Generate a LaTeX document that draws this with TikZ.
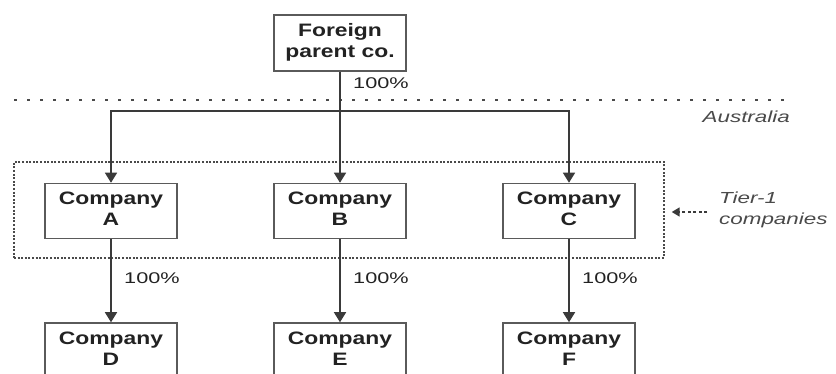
\documentclass[tikz,border=0pt]{standalone}
\usepackage{fontspec}
\usepackage{graphicx}
\setmainfont{Liberation Sans}
\usetikzlibrary{arrows.meta}

\definecolor{inkline}{HTML}{3A3A3A}
\definecolor{inkbox}{HTML}{5A5A5A}
\definecolor{inktext}{HTML}{222222}
\definecolor{inksoft}{HTML}{4A4A4A}

% wide two-line label for the company boxes
\newcommand\boxlabel[2]{\scalebox{1.27}[1]{\begin{tabular}{@{}c@{}}#1\\#2\end{tabular}}}
\newcommand\widetext[1]{\scalebox{1.4}[1]{#1}}

\tikzset{
  x=1pt, y=-1pt,
  cobox/.style={draw=inkbox, line width=1.5pt, fill=white, minimum width=132pt,
    minimum height=55pt, inner sep=0pt, text=inktext,
    font=\fontsize{18}{21}\selectfont\bfseries},
  link/.style={draw=inkline, line width=1.4pt},
  arr/.style={link, -{Triangle[length=10pt,width=12pt]}},
  pct/.style={text=inktext, font=\fontsize{15.5}{18}\selectfont, anchor=base west, inner sep=0pt},
  sepline/.style={draw=inksoft, line width=2pt, dash pattern=on 3pt off 10pt},
  tierbox/.style={draw=inksoft, line width=1.4pt, dash pattern=on 2pt off 1.6pt,
    minimum width=650pt, minimum height=96pt, inner sep=0pt},
  note/.style={text=inksoft, font=\fontsize{16}{21}\selectfont\itshape, inner sep=0pt},
}

\begin{document}
\begin{tikzpicture}
\clip (0,0) rectangle (836,374);
\fill[white] (0,0) rectangle (836,374);

% border line between the parent and Australia
\coordinate (sepL) at (14,100);
\coordinate (sepR) at (792,100);
\draw[sepline] (sepL) -- (sepR);
\node[note, anchor=base east] (aus) at (790,123) {\widetext{Australia}};

% tier-1 grouping frame
\node[tierbox] (tier) at (339,210) {};

% companies
\node[cobox, minimum height=56pt] (parent) at (340,43) {\boxlabel{Foreign}{parent co.}};
\node[cobox] (A) at (111,211) {\boxlabel{Company}{A}};
\node[cobox] (B) at (340,211) {\boxlabel{Company}{B}};
\node[cobox] (C) at (569,211) {\boxlabel{Company}{C}};
\node[cobox] (D) at (111,350.5) {\boxlabel{Company}{D}};
\node[cobox] (E) at (340,350.5) {\boxlabel{Company}{E}};
\node[cobox] (F) at (569,350.5) {\boxlabel{Company}{F}};

% ownership links
\coordinate (bus) at (340,111);
\draw[arr] (parent) -- (B);
\draw[arr] (bus) -| (A.north);
\draw[arr] (bus) -| (C.north);
\draw[arr] (A) -- (D);
\draw[arr] (B) -- (E);
\draw[arr] (C) -- (F);

% percentages
\node[pct] (p0) at (353,89) {\widetext{100\%}};
\node[pct] (p1) at (124,284) {\widetext{100\%}};
\node[pct] (p2) at (353,284) {\widetext{100\%}};
\node[pct] (p3) at (582,284) {\widetext{100\%}};

% tier-1 label and pointer
\node[note, anchor=west, align=left] (tierlbl) at (719,210)
  {\widetext{Tier-1}\\\widetext{companies}};
\coordinate (tierptr) at (707,212);
\draw[draw=inkline, line width=1.6pt, dash pattern=on 3pt off 2.5pt,
  -{Triangle[length=8pt,width=9pt]}, shorten >=7pt] (tierptr) -- (tier.east |- tierptr);
\end{tikzpicture}
\end{document}
